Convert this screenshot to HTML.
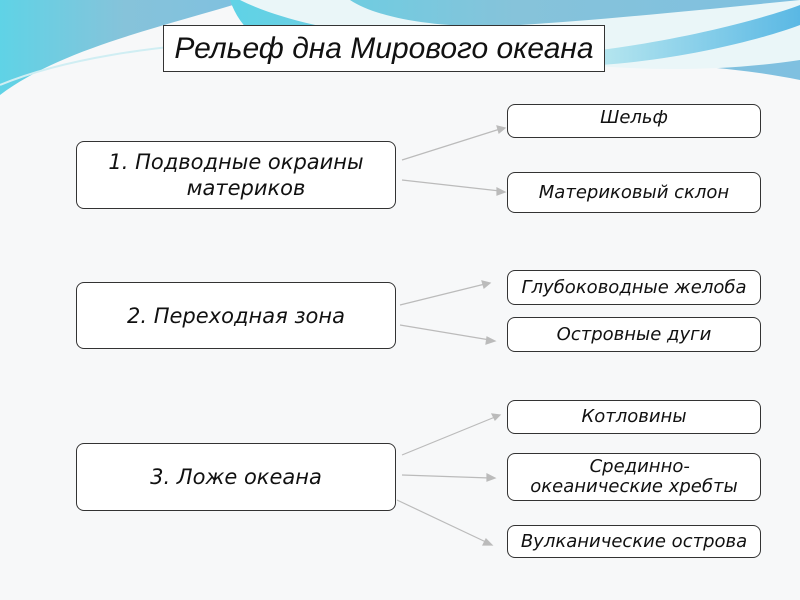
<!DOCTYPE html>
<html><head><meta charset="utf-8"><style>
body{margin:0;width:800px;height:600px;overflow:hidden;background:#f7f8f9;font-family:"DejaVu Sans","Liberation Sans",sans-serif;font-style:italic;}
.b{position:absolute;box-sizing:border-box;border:1px solid #333;background:#fff;border-radius:8px;display:flex;align-items:center;justify-content:center;text-align:center;color:#111;}
.l{font-size:21px;line-height:26px;}
.r{font-size:18px;line-height:20px;}
</style></head><body>
<svg width="800" height="600" style="position:absolute;left:0;top:0">
<defs>
<linearGradient id="g1" x1="0" y1="0" x2="1" y2="0"><stop offset="0" stop-color="#5fd3e6"/><stop offset="0.5" stop-color="#86c3da"/><stop offset="1" stop-color="#7fc0e0"/></linearGradient>
<linearGradient id="g2" x1="0" y1="0" x2="1" y2="0"><stop offset="0" stop-color="#b6e6ef"/><stop offset="1" stop-color="#5ab8e4"/></linearGradient>
</defs>
<path d="M0,0 H250 C150,30 60,50 0,95 Z" fill="url(#g1)"/>
<path d="M230,0 H800 V80 C700,60 600,60 400,70 C330,72 250,60 230,0 Z" fill="url(#g1)"/>
<path d="M240,0 H350 C380,20 450,30 520,25 C600,20 700,10 800,0 V60 C700,75 600,70 500,55 C400,40 300,30 240,0Z" fill="#eaf6f8"/>
<path d="M600,50 C680,40 760,20 800,5 V25 C760,40 680,60 600,65 Z" fill="url(#g2)"/>
<path d="M0,85 C60,60 150,45 260,40" stroke="#d0eef3" stroke-width="2" fill="none"/>
<g stroke="#bbb" stroke-width="1.2" fill="#bbb">
<line x1="402" y1="160" x2="500" y2="129"/><polygon points="505,128 497,126 499,133"/>
<line x1="402" y1="180" x2="500" y2="191"/><polygon points="505,192 497,188 497,195"/>
<line x1="400" y1="305" x2="485" y2="284"/><polygon points="490,283 482,281 484,288"/>
<line x1="400" y1="325" x2="490" y2="340"/><polygon points="495,341 487,337 486,344"/>
<line x1="402" y1="455" x2="495" y2="417"/><polygon points="500,415 492,414 495,420"/>
<line x1="402" y1="475" x2="490" y2="478"/><polygon points="495,478 487,474 487,481"/>
<line x1="397" y1="500" x2="488" y2="543"/><polygon points="492,545 486,539 483,545"/>
</g>
</svg>
<div class="b" style="left:163px;top:25px;width:442px;height:47px;border-radius:0;font-size:30px;font-family:'Liberation Sans',sans-serif;">Рельеф дна Мирового океана</div>
<div class="b l" style="left:76px;top:141px;width:320px;height:68px;">1. Подводные окраины<br>&nbsp;&nbsp;&nbsp;материков</div>
<div class="b l" style="left:76px;top:282px;width:320px;height:67px;">2. Переходная зона</div>
<div class="b l" style="left:76px;top:443px;width:320px;height:68px;">3. Ложе океана</div>
<div class="b r" style="left:507px;top:104px;width:254px;height:34px;align-items:flex-start;padding-top:3px;">Шельф</div>
<div class="b r" style="left:507px;top:172px;width:254px;height:41px;">Материковый склон</div>
<div class="b r" style="left:507px;top:270px;width:254px;height:35px;">Глубоководные желоба</div>
<div class="b r" style="left:507px;top:317px;width:254px;height:35px;">Островные дуги</div>
<div class="b r" style="left:507px;top:400px;width:254px;height:34px;">Котловины</div>
<div class="b r" style="left:507px;top:453px;width:254px;height:48px;">&nbsp;&nbsp;Срединно-<br>океанические хребты</div>
<div class="b r" style="left:507px;top:525px;width:254px;height:33px;">Вулканические острова</div>
</body></html>
